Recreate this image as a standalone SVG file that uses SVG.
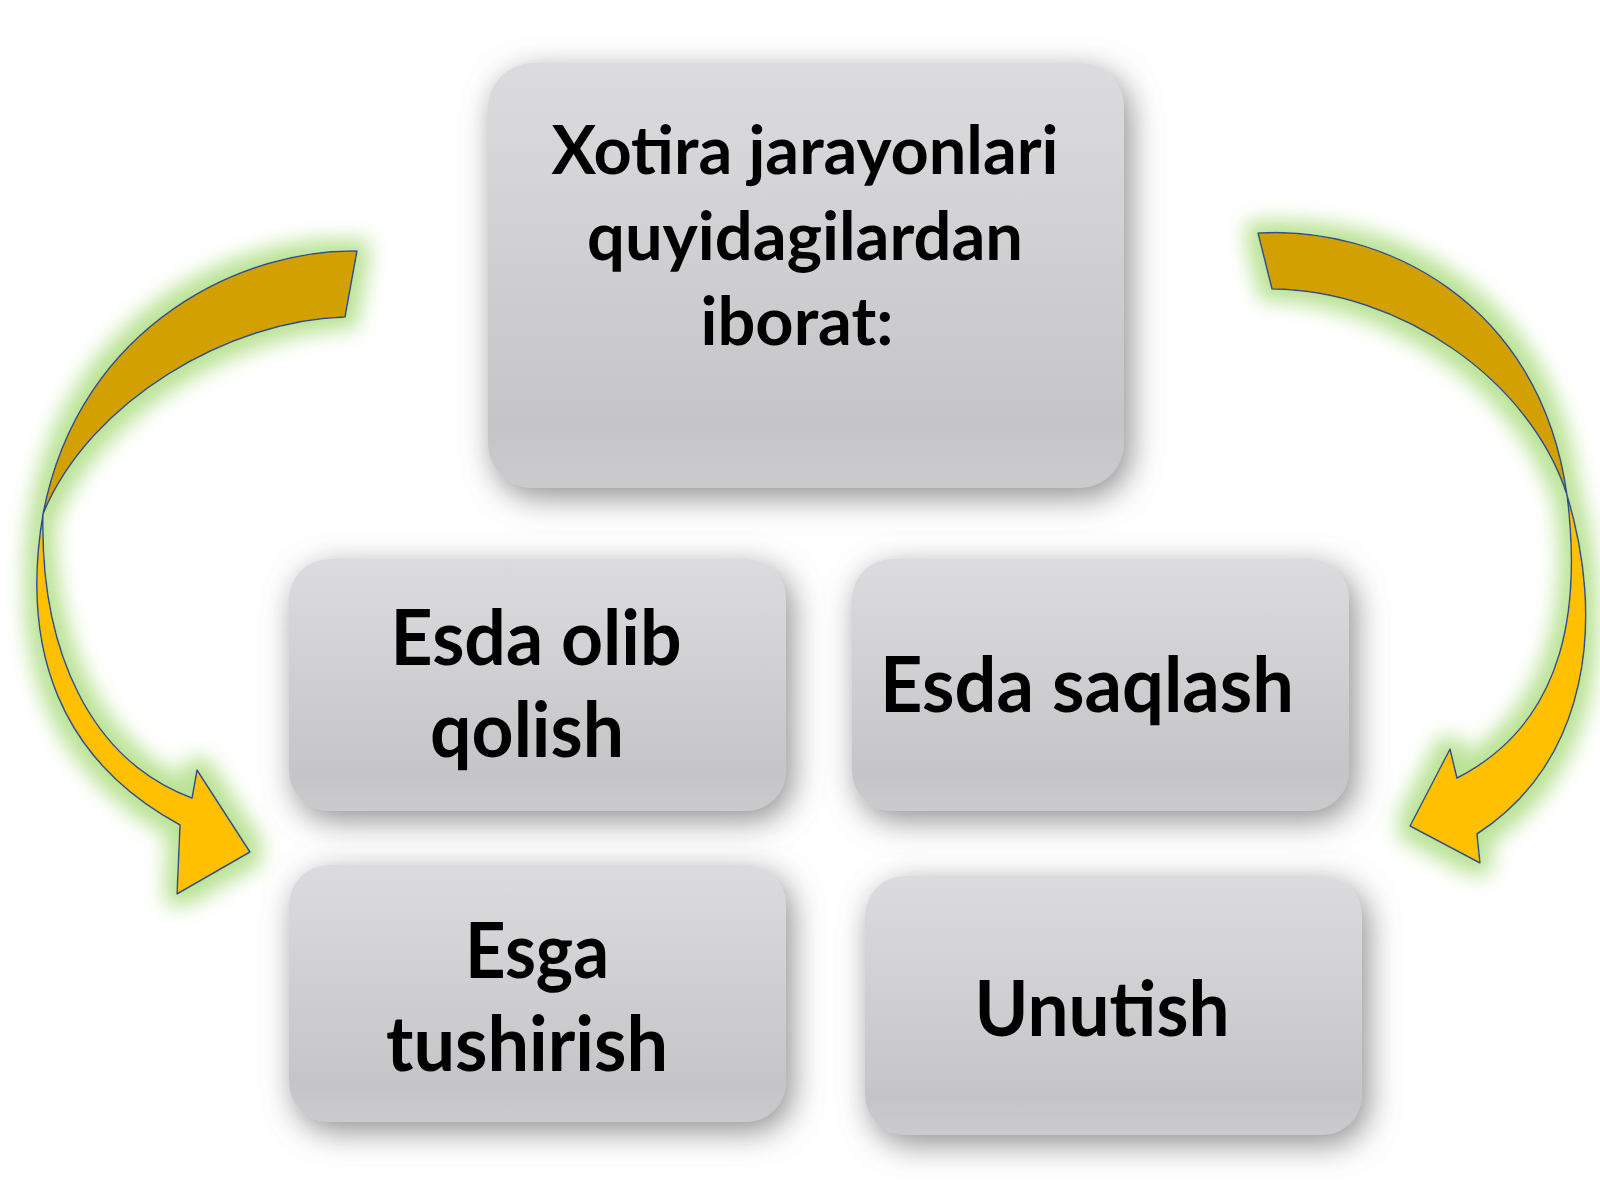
<svg xmlns="http://www.w3.org/2000/svg" width="1600" height="1200" viewBox="0 0 1600 1200">
  <defs>
    <linearGradient id="boxFill" x1="0" y1="0" x2="0" y2="1">
      <stop offset="0" stop-color="#dcdcde"/>
      <stop offset="0.85" stop-color="#c5c5c7"/>
      <stop offset="1" stop-color="#cbcbcd"/>
    </linearGradient>
    <filter id="boxShadow" x="-25%" y="-25%" width="150%" height="160%">
      <feGaussianBlur in="SourceAlpha" stdDeviation="16" result="b"/>
      <feOffset in="b" dx="6" dy="9" result="o"/>
      <feFlood flood-color="#727274" flood-opacity="0.8"/>
      <feComposite in2="o" operator="in" result="s"/>
      <feMerge>
        <feMergeNode in="s"/>
        <feMergeNode in="SourceGraphic"/>
      </feMerge>
    </filter>
    <filter id="glow" x="-40%" y="-25%" width="180%" height="150%">
      <feMorphology in="SourceAlpha" operator="dilate" radius="11" result="d"/>
      <feGaussianBlur in="d" stdDeviation="10" result="b"/>
      <feFlood flood-color="#b2df88" flood-opacity="0.9"/>
      <feComposite in2="b" operator="in" result="g"/>
      <feMerge>
        <feMergeNode in="g"/>
        <feMergeNode in="SourceGraphic"/>
      </feMerge>
    </filter>
  </defs>
  <style>
    .box { fill: url(#boxFill); filter: url(#boxShadow); }
    .lbl { font-family: Lato, "Liberation Sans", sans-serif; font-weight: bold; fill: #000; text-anchor: middle; }
    .big { font-size: 66px; }
    .mid { font-size: 76px; }
    .back { fill: #d2a000; stroke: #2f4f8f; stroke-width: 1.5; stroke-linejoin: round; }
    .front { fill: #ffc000; stroke: #2f4f8f; stroke-width: 1.5; stroke-linejoin: round; }
  </style>
  <rect width="1600" height="1200" fill="#ffffff"/>

  <g id="connectors">
    <g id="arrow-left" filter="url(#glow)">
      <path class="back" d="M357,251 C250,248 80,320 43,514 C90,400 230,320 345,317 Z"/>
      <path class="front" d="M43,514 C20,650 60,760 180,825 L177,894 L250,852 L197,770 L192,798 C90,760 40,650 43,514 Z"/>
    </g>
    <g id="arrow-right" filter="url(#glow)">
      <path class="back" d="M1258,233 C1380,225 1540,300 1567,495 C1530,380 1400,290 1272,289 Z"/>
      <path class="front" d="M1567,495 C1605,620 1590,760 1477,834 L1480,863 L1410,826 L1450,749 L1457,778 C1570,720 1580,600 1567,495 Z"/>
    </g>
  </g>

  <g id="node-top">
    <rect class="box" x="488" y="63" width="636" height="425" rx="45"/>
    <text class="lbl big" x="805" y="174" textLength="507" lengthAdjust="spacingAndGlyphs">Xotira jarayonlari</text>
    <text class="lbl big" x="805" y="260" textLength="436" lengthAdjust="spacingAndGlyphs">quyidagilardan</text>
    <text class="lbl big" x="797" y="345" textLength="193" lengthAdjust="spacingAndGlyphs">iborat:</text>
  </g>

  <g id="node-esda-olib-qolish">
    <rect class="box" x="289" y="559" width="497" height="252" rx="40"/>
    <text class="lbl mid" x="536" y="665" textLength="291" lengthAdjust="spacingAndGlyphs">Esda olib</text>
    <text class="lbl mid" x="527" y="757" textLength="194" lengthAdjust="spacingAndGlyphs">qolish</text>
  </g>

  <g id="node-esda-saqlash">
    <rect class="box" x="852" y="559" width="497" height="252" rx="40"/>
    <text class="lbl mid" x="1087" y="712" textLength="414" lengthAdjust="spacingAndGlyphs">Esda saqlash</text>
  </g>

  <g id="node-esga-tushirish">
    <rect class="box" x="289" y="865" width="497" height="257" rx="40"/>
    <text class="lbl mid" x="537" y="978" textLength="144" lengthAdjust="spacingAndGlyphs">Esga</text>
    <text class="lbl mid" x="527" y="1071" textLength="282" lengthAdjust="spacingAndGlyphs">tushirish</text>
  </g>

  <g id="node-unutish">
    <rect class="box" x="865" y="876" width="497" height="259" rx="40"/>
    <text class="lbl mid" x="1102" y="1036" textLength="255" lengthAdjust="spacingAndGlyphs">Unutish</text>
  </g>
</svg>
